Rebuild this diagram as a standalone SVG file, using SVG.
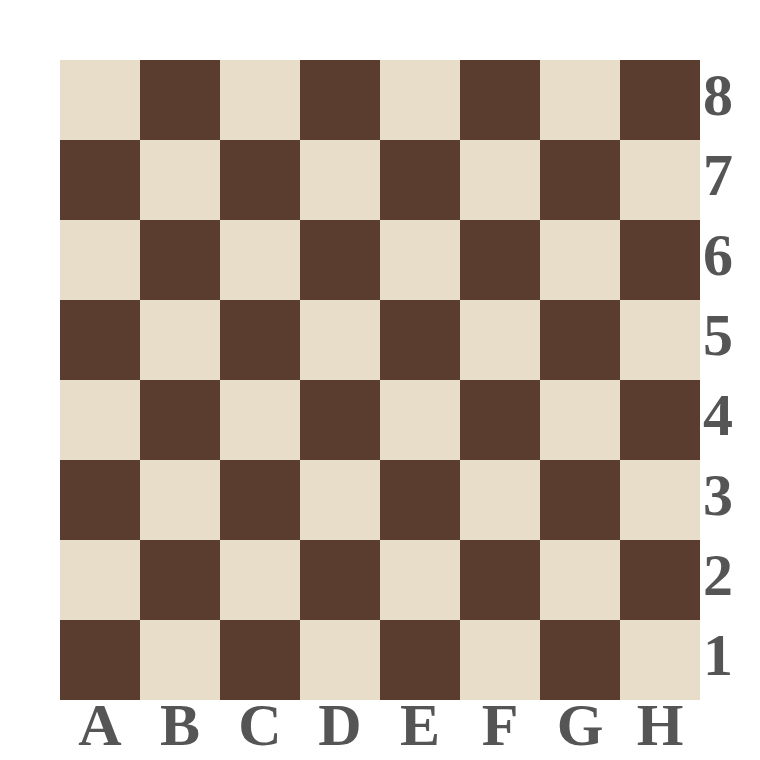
<svg xmlns="http://www.w3.org/2000/svg" width="760" height="760" viewBox="0 0 760 760">
<style>
.l{fill:#E8DDC9}
.d{fill:#5A3D2E}
.t{font-family:"Times New Roman","Liberation Serif",Times,serif;font-weight:bold;font-size:60px;fill:#555555;text-anchor:middle}
</style>
<rect width="760" height="760" fill="#ffffff"/>
<g id="board">
<rect x="60" y="60" width="640" height="640" class="l"/>
<g class="d">
<rect x="140" y="60" width="80" height="80"/><rect x="300" y="60" width="80" height="80"/><rect x="460" y="60" width="80" height="80"/><rect x="620" y="60" width="80" height="80"/>
<rect x="60" y="140" width="80" height="80"/><rect x="220" y="140" width="80" height="80"/><rect x="380" y="140" width="80" height="80"/><rect x="540" y="140" width="80" height="80"/>
<rect x="140" y="220" width="80" height="80"/><rect x="300" y="220" width="80" height="80"/><rect x="460" y="220" width="80" height="80"/><rect x="620" y="220" width="80" height="80"/>
<rect x="60" y="300" width="80" height="80"/><rect x="220" y="300" width="80" height="80"/><rect x="380" y="300" width="80" height="80"/><rect x="540" y="300" width="80" height="80"/>
<rect x="140" y="380" width="80" height="80"/><rect x="300" y="380" width="80" height="80"/><rect x="460" y="380" width="80" height="80"/><rect x="620" y="380" width="80" height="80"/>
<rect x="60" y="460" width="80" height="80"/><rect x="220" y="460" width="80" height="80"/><rect x="380" y="460" width="80" height="80"/><rect x="540" y="460" width="80" height="80"/>
<rect x="140" y="540" width="80" height="80"/><rect x="300" y="540" width="80" height="80"/><rect x="460" y="540" width="80" height="80"/><rect x="620" y="540" width="80" height="80"/>
<rect x="60" y="620" width="80" height="80"/><rect x="220" y="620" width="80" height="80"/><rect x="380" y="620" width="80" height="80"/><rect x="540" y="620" width="80" height="80"/>
</g>
</g>
<g id="ranks" class="t">
<text x="718" y="115">8</text>
<text x="718" y="195">7</text>
<text x="718" y="275">6</text>
<text x="718" y="355">5</text>
<text x="718" y="435">4</text>
<text x="718" y="515">3</text>
<text x="718" y="595">2</text>
<text x="718" y="675">1</text>
</g>
<g id="files" class="t">
<text x="100" y="745">A</text>
<text x="180" y="745">B</text>
<text x="260" y="745">C</text>
<text x="340" y="745">D</text>
<text x="420" y="745">E</text>
<text x="500" y="745">F</text>
<text x="580" y="745">G</text>
<text x="660" y="745">H</text>
</g>
</svg>
